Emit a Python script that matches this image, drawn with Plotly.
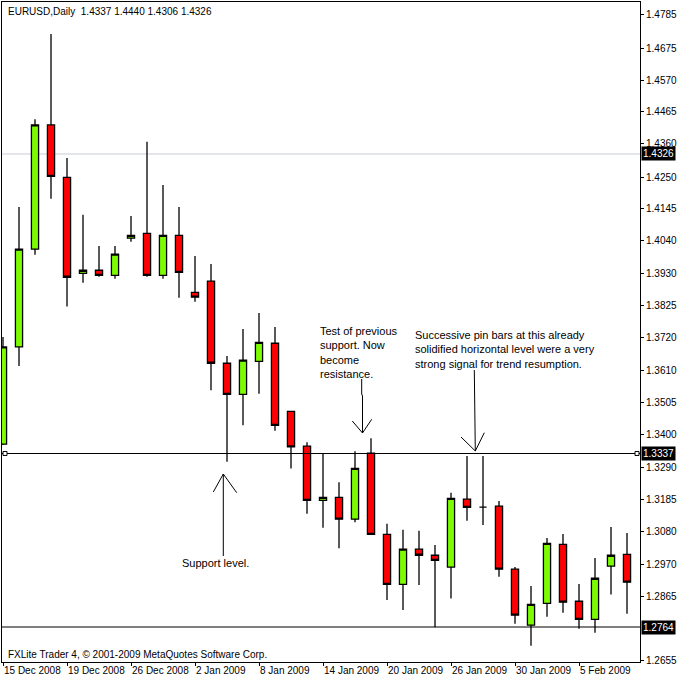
import plotly.graph_objects as go

# ---------------- data ----------------
dates = ["2008-12-15", "2008-12-16", "2008-12-17", "2008-12-18", "2008-12-19",
         "2008-12-22", "2008-12-23", "2008-12-24", "2008-12-26", "2008-12-29",
         "2008-12-30", "2008-12-31", "2009-01-02", "2009-01-05", "2009-01-06",
         "2009-01-07", "2009-01-08", "2009-01-09", "2009-01-12", "2009-01-13",
         "2009-01-14", "2009-01-15", "2009-01-16", "2009-01-19", "2009-01-20",
         "2009-01-21", "2009-01-22", "2009-01-23", "2009-01-26", "2009-01-27",
         "2009-01-28", "2009-01-29", "2009-01-30", "2009-02-02", "2009-02-03",
         "2009-02-04", "2009-02-05", "2009-02-06", "2009-02-09", "2009-02-10"]

opens = [1.3368, 1.3689, 1.4012, 1.4422, 1.4249, 1.3932, 1.3942, 1.3925, 1.4048, 1.4064,
         1.3925, 1.4057, 1.3869, 1.3906, 1.3635, 1.3532, 1.3641, 1.3701, 1.3476, 1.3361,
         1.3182, 1.3192, 1.3120, 1.3338, 1.3070, 1.2905, 1.3021, 1.3001, 1.2962, 1.3186,
         1.3160, 1.3163, 1.2955, 1.2770, 1.2842, 1.3037, 1.2849, 1.2789, 1.2965, 1.3004]
highs = [1.3722, 1.4151, 1.4441, 1.4722, 1.4313, 1.4125, 1.4022, 1.4022, 1.4121, 1.4366,
         1.4224, 1.4151, 1.3989, 1.3963, 1.3659, 1.3748, 1.3801, 1.3755, 1.3478, 1.3374,
         1.3338, 1.3242, 1.3344, 1.3387, 1.3105, 1.3085, 1.3082, 1.3035, 1.3207, 1.3329,
         1.3329, 1.3180, 1.2962, 1.2899, 1.3058, 1.3071, 1.2906, 1.2992, 1.3094, 1.3074]
lows = [1.3365, 1.3626, 1.3993, 1.4178, 1.3822, 1.3901, 1.3921, 1.3914, 1.4036, 1.3921,
        1.3914, 1.3851, 1.3838, 1.3546, 1.3310, 1.3430, 1.3534, 1.3412, 1.3287, 1.3138,
        1.3092, 1.3024, 1.3110, 1.3068, 1.2853, 1.2820, 1.2903, 1.2763, 1.2858, 1.3115,
        1.3101, 1.2930, 1.2775, 1.2702, 1.2798, 1.2811, 1.2758, 1.2745, 1.2871, 1.2808]
closes = [1.3689, 1.4012, 1.4422, 1.4252, 1.3919, 1.3942, 1.3925, 1.3995, 1.4057, 1.3925,
          1.4057, 1.3935, 1.3853, 1.3635, 1.3532, 1.3645, 1.3704, 1.3430, 1.3359, 1.3182,
          1.3192, 1.3120, 1.3288, 1.3070, 1.2905, 1.3021, 1.3001, 1.2984, 1.3189, 1.3159,
          1.3160, 1.2955, 1.2803, 1.2839, 1.3040, 1.2846, 1.2789, 1.2925, 1.3001, 1.2912]

price_ticks = [1.4785, 1.4675, 1.4570, 1.4465, 1.4360, 1.4250, 1.4145, 1.4040, 1.3930,
               1.3825, 1.3720, 1.3610, 1.3505, 1.3400, 1.3290, 1.3185, 1.3080, 1.2970,
               1.2865, 1.2655]
date_tick_vals = ["2008-12-15", "2008-12-19", "2008-12-26", "2009-01-02", "2009-01-08",
                  "2009-01-14", "2009-01-20", "2009-01-26", "2009-01-30", "2009-02-05"]
date_tick_text = ["15 Dec 2008", "19 Dec 2008", "26 Dec 2008", "2 Jan 2009", "8 Jan 2009",
                  "14 Jan 2009", "20 Jan 2009", "26 Jan 2009", "30 Jan 2009", "5 Feb 2009"]

bid_level = 1.4326
support_level = 1.3337
low_level = 1.2764
title_text = "EURUSD,Daily  1.4337 1.4440 1.4306 1.4326"
footer_text = "FXLite Trader 4, \u00a9 2001-2009 MetaQuotes Software Corp."
note_test = "Test of previous<br>support. Now<br>become<br>resistance."
note_pin = ("Successive pin bars at this already<br>solidified horizontal level were a very"
            "<br>strong signal for trend resumption.")
note_support = "Support level."

# ---------------- layout geometry ----------------
W, H = 680, 680
ML, MR, MT, MB = 2, 40, 2, 18
PW, PH = W - ML - MR, H - MT - MB


def px(x):
    return (x - ML) / PW


def py(y):
    return (H - MB - y) / PH


FONT = "Liberation Sans, Arial, sans-serif"

fig = go.Figure()
fig.add_trace(go.Candlestick(
    x=dates, open=opens, high=highs, low=lows, close=closes,
    increasing=dict(line=dict(color="black", width=1.3), fillcolor="#7CFC00"),
    decreasing=dict(line=dict(color="black", width=1.3), fillcolor="#FF0000"),
    whiskerwidth=0, hoverinfo="skip", showlegend=False,
))

shapes = []
# horizontal levels
shapes.append(dict(type="line", xref="paper", x0=0, x1=1, yref="y", y0=bid_level, y1=bid_level,
                   line=dict(color="#C8CDD4", width=1), layer="below"))
shapes.append(dict(type="line", xref="paper", x0=0, x1=1, yref="y", y0=support_level,
                   y1=support_level, line=dict(color="black", width=1.2)))
shapes.append(dict(type="line", xref="paper", x0=0, x1=1, yref="y", y0=low_level, y1=low_level,
                   line=dict(color="black", width=1.2)))
# small squares on support line ends
for xa, xs in [(0, 3), (1, -3)]:
    shapes.append(dict(type="rect", xref="paper", yref="y", xsizemode="pixel", ysizemode="pixel",
                       xanchor=xa, yanchor=support_level, x0=xs - 2, x1=xs + 2, y0=-2, y1=2,
                       line=dict(color="black", width=1), fillcolor="white"))


def path(points):
    return "M " + " L ".join(f"{px(a):.5f},{py(b):.5f}" for a, b in points)


arrow_lines = [
    [(361.7, 379), (361.7, 394), (362.5, 396), (362.5, 433)],
    [(352.3, 421), (362.5, 433), (371.7, 419.3)],
    [(474.3, 370), (475.3, 451)],
    [(461, 437), (475.3, 451), (484.3, 432.7)],
    [(223.3, 556), (223.3, 474)],
    [(213.3, 492), (223.3, 474), (236.7, 492.7)],
]
for pts in arrow_lines:
    shapes.append(dict(type="path", xref="paper", yref="paper", path=path(pts),
                       line=dict(color="black", width=1)))

annotations = [
    dict(text=title_text, xref="paper", yref="paper", x=px(6), y=py(11), xanchor="left",
         yanchor="middle", showarrow=False, font=dict(family=FONT, size=10, color="black")),
    dict(text=footer_text, xref="paper", yref="paper", x=px(6), y=py(654), xanchor="left",
         yanchor="middle", showarrow=False, font=dict(family=FONT, size=10, color="black")),
    dict(text=note_test, xref="paper", yref="paper", x=px(318), y=py(323), xanchor="left",
         yanchor="top", align="left", showarrow=False,
         font=dict(family=FONT, size=11, color="black")),
    dict(text=note_pin, xref="paper", yref="paper", x=px(413.5), y=py(326.5), xanchor="left",
         yanchor="top", align="left", showarrow=False,
         font=dict(family=FONT, size=11, color="black")),
    dict(text=note_support, xref="paper", yref="paper", x=px(215.7), y=py(563.3),
         xanchor="center", yanchor="middle", showarrow=False,
         font=dict(family=FONT, size=11, color="black")),
]
for lvl in [bid_level, support_level, low_level]:
    annotations.append(dict(text=f"{lvl:.4f}", xref="paper", yref="y", x=1, y=lvl,
                            xanchor="left", yanchor="middle", xshift=1, showarrow=False,
                            bgcolor="black", borderpad=1,
                            font=dict(family=FONT, size=10, color="white")))

fig.update_layout(
    width=W, height=H,
    margin=dict(l=ML, r=MR, t=MT, b=MB, autoexpand=False),
    paper_bgcolor="white", plot_bgcolor="white",
    boxgap=0.36,
    shapes=shapes, annotations=annotations,
    font=dict(family=FONT, size=10, color="black"),
    xaxis=dict(type="category", range=[-0.0625, 39.8125], rangeslider=dict(visible=False),
               tickmode="array", tickvals=date_tick_vals, ticktext=date_tick_text,
               ticks="outside", ticklen=3, tickcolor="black", showgrid=False,
               ticklabelposition="outside right", ticklabelstandoff=-1, tickangle=0,
               showline=True, linecolor="black", linewidth=1, mirror=True, automargin=False,
               tickfont=dict(family=FONT, size=10, color="black"), fixedrange=True),
    yaxis=dict(side="right", range=[1.264842, 1.48279], tickmode="array",
               tickvals=price_ticks, tickformat=".4f", ticks="outside", ticklen=3,
               tickcolor="black", showgrid=False, zeroline=False, automargin=False,
               showline=True, linecolor="black", linewidth=1, mirror=True,
               tickfont=dict(family=FONT, size=10, color="black"), fixedrange=True),
)

fig.write_html("out.html", config={"displayModeBar": False},
               post_script="document.body.style.margin='0px';")
